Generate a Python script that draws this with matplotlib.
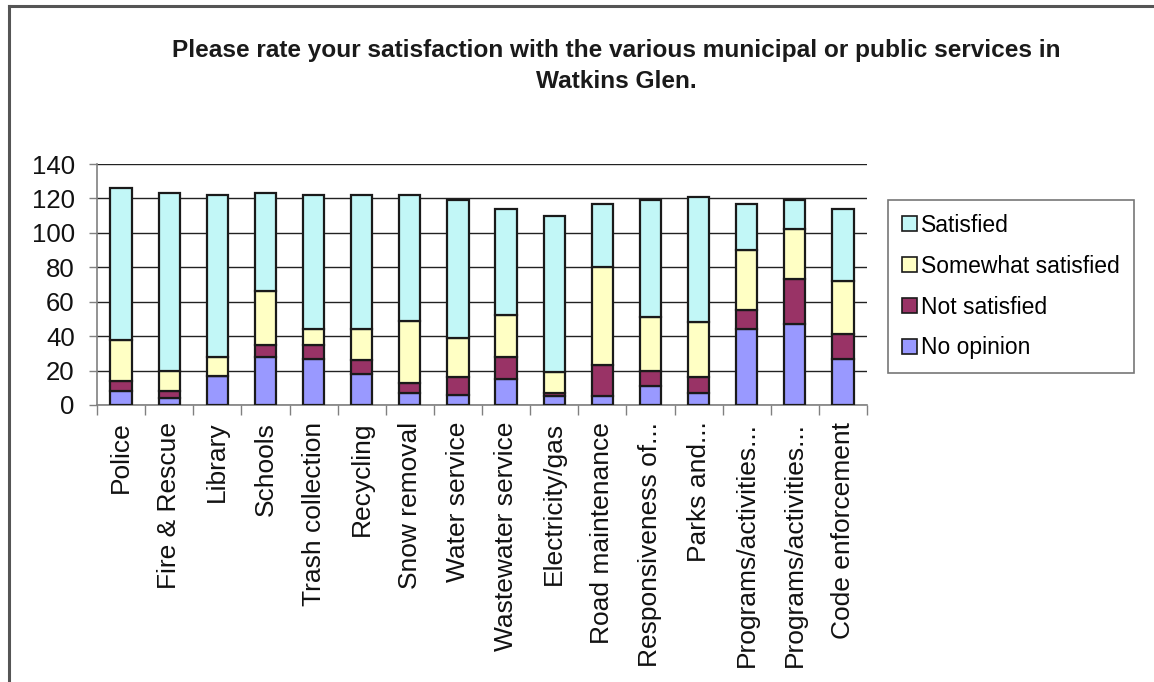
import matplotlib
matplotlib.use("Agg")
import matplotlib.pyplot as plt
import numpy as np
from matplotlib.lines import Line2D
from matplotlib.patches import Patch

plt.rcParams['font.family'] = ['Liberation Sans', 'DejaVu Sans']

categories = ["Police", "Fire & Rescue", "Library", "Schools", "Trash collection",
              "Recycling", "Snow removal", "Water service", "Wastewater service",
              "Electricity/gas", "Road maintenance", "Responsiveness of...",
              "Parks and...", "Programs/activities...", "Programs/activities...",
              "Code enforcement"]
no_opinion    = [8, 4, 17, 28, 27, 18, 7, 6, 15, 5, 5, 11, 7, 44, 47, 27]
not_satisfied = [6, 4, 0, 7, 8, 8, 6, 10, 13, 2, 18, 9, 9, 11, 26, 14]
somewhat      = [24, 12, 11, 31, 9, 18, 36, 23, 24, 12, 57, 31, 32, 35, 29, 31]
satisfied     = [88, 103, 94, 57, 78, 78, 73, 80, 62, 91, 37, 68, 73, 27, 17, 42]
series_names = ["No opinion", "Not satisfied", "Somewhat satisfied", "Satisfied"]
colors = ["#9999FF", "#993366", "#FFFFC4", "#C2F7F7"]
yticks = [0, 20, 40, 60, 80, 100, 120, 140]
title = "Please rate your satisfaction with the various municipal or public services in\nWatkins Glen."

W, H = 1154, 682
fig = plt.figure(figsize=(W/100, H/100), dpi=100)
ax = fig.add_axes([97/W, 1-405/H, (867-97)/W, (405-164)/H])

x = np.arange(len(categories))
bottom = np.zeros(len(categories))
handles = []
for name, vals, c in zip(series_names, [no_opinion, not_satisfied, somewhat, satisfied], colors):
    vals = np.array(vals, dtype=float)
    ax.bar(x, vals, bottom=bottom, width=0.44, color=c, edgecolor="#1a1a1a",
           linewidth=1.6, zorder=3)
    bottom += vals
    handles.append(Patch(facecolor=c, edgecolor="#1a1a1a", linewidth=1.2, label=name))

ax.set_xlim(-0.5, len(categories)-0.5)
ax.set_ylim(0, 140)
ax.set_yticks(yticks)
ax.set_yticklabels([str(v) for v in yticks], fontsize=18.5, color="#111111")
ax.yaxis.grid(True, color="#222222", linewidth=1.0, zorder=0)
ax.tick_params(axis='y', length=6, width=1, color="#808080", pad=10)

ax.set_xticks(x)
ax.set_xticklabels(categories, rotation=90, fontsize=19, color="#111111", va='top')
ax.tick_params(axis='x', length=0, pad=12)
ax.set_xticks(np.arange(len(categories)+1) - 0.5, minor=True)
ax.tick_params(axis='x', which='minor', length=7, width=1, color="#808080")

for s in ['top', 'right']:
    ax.spines[s].set_visible(False)
for s in ['left', 'bottom']:
    ax.spines[s].set_color("#808080")
    ax.spines[s].set_linewidth(1.2)

fig.text(616/W, 1-66/H, title, ha='center', va='center', fontsize=17.6,
         fontweight='bold', color="#1a1a1a", linespacing=1.4)

leg = fig.legend(handles=handles[::-1], loc='upper left',
                 bbox_to_anchor=(888/W, 1-200/H), bbox_transform=fig.transFigure,
                 fontsize=16.5, frameon=True, fancybox=False, handlelength=0.65,
                 handleheight=0.65, handletextpad=0.2, labelspacing=0.78,
                 borderpad=0.6, borderaxespad=0)
leg.get_frame().set_edgecolor("#555555")
leg.get_frame().set_linewidth(1.2)

# outer chart frame (left and top edges)
fig.add_artist(Line2D([9/W, 9/W], [0, 1-6/H], transform=fig.transFigure,
                      color="#555555", linewidth=2.2))
fig.add_artist(Line2D([9/W, 1], [1-6/H, 1-6/H], transform=fig.transFigure,
                      color="#555555", linewidth=2.2))

fig.savefig("out.png", dpi=100)
